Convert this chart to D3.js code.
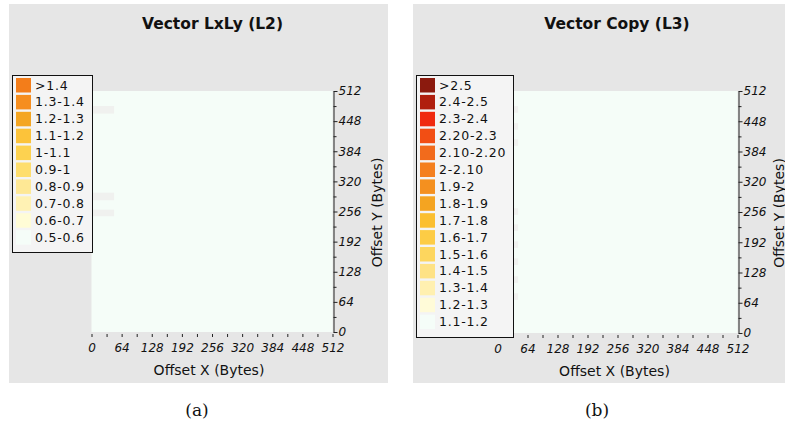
<!DOCTYPE html>
<html>
<head>
<meta charset="utf-8">
<script src="https://cdn.jsdelivr.net/npm/d3@7"></script>
<style>
  body { margin: 0; background: #fff; }
  svg text { font-family: "DejaVu Sans", sans-serif; fill: #111; }
</style>
</head>
<body>
<div id="chart"></div>
<script>
// Tick values (bytes), same for both panels
const majorTicks = [0, 64, 128, 192, 256, 320, 384, 448, 512];
const minorTicks = [0, 32, 64, 96, 128, 160, 192, 224, 256, 288, 320, 352, 384, 416, 448, 480, 512];

// Legend bins + colours, panel (a)
const binsL2 = [">1.4", "1.3-1.4", "1.2-1.3", "1.1-1.2", "1-1.1", "0.9-1", "0.8-0.9", "0.7-0.8", "0.6-0.7", "0.5-0.6"];
const colorsL2 = ["#f37d1a", "#f68e1f", "#f4a623", "#fcc33a", "#fdd250", "#fede6e", "#fee895", "#fff2b4", "#fffcd6", "#f5fdf8"];

// Legend bins + colours, panel (b)
const binsL3 = [">2.5", "2.4-2.5", "2.3-2.4", "2.20-2.3", "2.10-2.20", "2-2.10", "1.9-2", "1.8-1.9", "1.7-1.8",
  "1.6-1.7", "1.5-1.6", "1.4-1.5", "1.3-1.4", "1.2-1.3", "1.1-1.2"];
const colorsL3 = ["#8b1a0e", "#b01f0e", "#f02a10", "#f24e14", "#f26b1c", "#f47f1e", "#f4901f", "#f4a421", "#fbbf30",
  "#fdcc45", "#fdd65e", "#fee285", "#fff0b0", "#fffbd8", "#f5fdf8"];

// Heat map cells (bytes). Almost all of it falls in the lowest bin,
// a few strips near x=0 have no value ("n/a")
const cellsL2 = [
  { x0: 0, x1: 512, y0: 0, y1: 512, bin: "0.5-0.6" },
  { x0: 0, x1: 48, y0: 464, y1: 480, bin: "n/a" },
  { x0: 0, x1: 48, y0: 280, y1: 296, bin: "n/a" },
  { x0: 0, x1: 48, y0: 246, y1: 260, bin: "n/a" }
];
const cellsL3 = [
  { x0: 0, x1: 512, y0: 0, y1: 512, bin: "1.1-1.2" },
  { x0: 0, x1: 44, y0: 466, y1: 480, bin: "n/a" },
  { x0: 0, x1: 44, y0: 430, y1: 444, bin: "n/a" },
  { x0: 0, x1: 44, y0: 396, y1: 410, bin: "n/a" },
  { x0: 0, x1: 44, y0: 250, y1: 264, bin: "n/a" },
  { x0: 0, x1: 44, y0: 216, y1: 230, bin: "n/a" },
  { x0: 0, x1: 44, y0: 180, y1: 194, bin: "n/a" },
  { x0: 0, x1: 44, y0: 144, y1: 158, bin: "n/a" },
  { x0: 0, x1: 44, y0: 106, y1: 120, bin: "n/a" },
  { x0: 0, x1: 44, y0: 70, y1: 84, bin: "n/a" }
];

class HeatPanel {
  constructor(_config) {
    this.config = _config;
    this.initVis();
  }

  initVis() {
    let vis = this;
    let c = vis.config;

    vis.g = c.svg.append("g");

    // gray panel background
    vis.g.append("rect")
      .attr("x", c.panel.x).attr("y", c.panel.y)
      .attr("width", c.panel.w).attr("height", c.panel.h)
      .attr("fill", "#e6e6e6");

    vis.xScale = d3.scaleLinear().domain([0, 512]).range([c.plot.x, c.plot.x + c.plot.w]);
    vis.yScale = d3.scaleLinear().domain([0, 512]).range([c.plot.y + c.plot.h, c.plot.y]);

    vis.colorScale = d3.scaleOrdinal()
      .domain(c.bins.concat(["n/a"]))
      .range(c.colors.concat(["#f0f1ef"]));

    vis.renderVis();
  }

  renderVis() {
    let vis = this;
    let c = vis.config;

    // cells
    vis.g.append("g").selectAll("rect")
      .data(c.cells)
      .join("rect")
      .attr("x", d => vis.xScale(d.x0))
      .attr("y", d => vis.yScale(d.y1))
      .attr("width", d => vis.xScale(d.x1) - vis.xScale(d.x0))
      .attr("height", d => vis.yScale(d.y0) - vis.yScale(d.y1))
      .attr("fill", d => vis.colorScale(d.bin));

    // title
    vis.g.append("text")
      .attr("x", c.panel.x + c.panel.w / 2 + c.titleDx)
      .attr("y", 29)
      .attr("text-anchor", "middle")
      .style("font-size", "15.5px")
      .style("font-weight", "bold")
      .text(c.title);

    // x axis: ticks only, no domain line
    let xAxis = d3.axisBottom(vis.xScale).tickValues(minorTicks).tickSize(3)
      .tickFormat(d => majorTicks.includes(d) ? d : "");
    let xg = vis.g.append("g")
      .attr("transform", `translate(0,${c.plot.y + c.plot.h + 2})`)
      .call(xAxis);
    xg.select(".domain").remove();
    xg.selectAll("line").attr("stroke", "#222");
    xg.selectAll("text")
      .attr("y", 9)
      .style("font-size", "12px")
      .style("font-style", "italic")
      .style("font-family", "DejaVu Sans, sans-serif");

    // y axis on the right
    let yAxis = d3.axisRight(vis.yScale).tickValues(minorTicks).tickSize(3).tickSizeOuter(0)
      .tickFormat(d => majorTicks.includes(d) ? d : "");
    let yg = vis.g.append("g")
      .attr("transform", `translate(${c.plot.x + c.plot.w + 1},0)`)
      .call(yAxis);
    yg.select(".domain").attr("stroke", "#222");
    yg.selectAll("line").attr("stroke", "#222");
    yg.selectAll(".tick").filter(d => majorTicks.includes(d)).select("line").attr("x2", 4);
    yg.selectAll("text")
      .attr("x", 5)
      .style("font-size", "12px")
      .style("font-style", "italic")
      .style("font-family", "DejaVu Sans, sans-serif");

    // axis titles
    vis.g.append("text")
      .attr("x", c.plot.x + c.plot.w / 2 - 3)
      .attr("y", c.plot.y + c.plot.h + 43)
      .attr("text-anchor", "middle")
      .style("font-size", "14px")
      .text("Offset X (Bytes)");

    let yMid = c.plot.y + c.plot.h / 2 + 1;
    vis.g.append("text")
      .attr("transform", `translate(${c.plot.x + c.plot.w + c.yLabelDx},${yMid}) rotate(-90)`)
      .attr("text-anchor", "middle")
      .style("font-size", "14px")
      .text("Offset Y (Bytes)");

    // legend box (drawn on top of the plot's left edge)
    let L = c.legend;
    let lg = vis.g.append("g");
    lg.append("rect")
      .attr("x", L.x + 0.5).attr("y", L.y + 0.5)
      .attr("width", L.w).attr("height", L.h)
      .attr("fill", "#f4f4f4")
      .attr("stroke", "#111");

    let rowH = 16.9;
    let rows = lg.selectAll(".row")
      .data(c.bins)
      .join("g")
      .attr("class", "row")
      .attr("transform", (d, i) => `translate(${L.x},${L.y + 10 + i * rowH})`);
    rows.append("rect")
      .attr("x", 4).attr("y", -7)
      .attr("width", 15).attr("height", 14.5)
      .attr("fill", d => vis.colorScale(d));
    rows.append("text")
      .attr("x", 23).attr("y", 0)
      .attr("dy", "0.36em")
      .style("font-size", "12.5px")
      .style("letter-spacing", "0.8px")
      .text(d => d);

    // caption under the panel
    vis.g.append("text")
      .attr("x", c.caption.x).attr("y", c.caption.y)
      .attr("text-anchor", "middle")
      .style("font-family", "DejaVu Serif, serif")
      .style("font-size", "17px")
      .text(c.caption.text);
  }
}

const svg = d3.select("#chart").append("svg")
  .attr("width", 785)
  .attr("height", 423);

new HeatPanel({
  svg: svg,
  title: "Vector LxLy (L2)",
  titleDx: 14,
  yLabelDx: 49,
  panel: { x: 9, y: 4, w: 379, h: 379 },
  plot: { x: 91.5, y: 91, w: 241, h: 241 },
  legend: { x: 12, y: 75, w: 80, h: 177 },
  bins: binsL2, colors: colorsL2, cells: cellsL2,
  caption: { x: 197, y: 416, text: "(a)" }
});

new HeatPanel({
  svg: svg,
  title: "Vector Copy (L3)",
  titleDx: 18,
  yLabelDx: 46,
  panel: { x: 413, y: 4, w: 372, h: 379 },
  plot: { x: 497.5, y: 91, w: 240, h: 242 },
  legend: { x: 416, y: 75, w: 97, h: 262 },
  bins: binsL3, colors: colorsL3, cells: cellsL3,
  caption: { x: 597, y: 416, text: "(b)" }
});
</script>
</body>
</html>
